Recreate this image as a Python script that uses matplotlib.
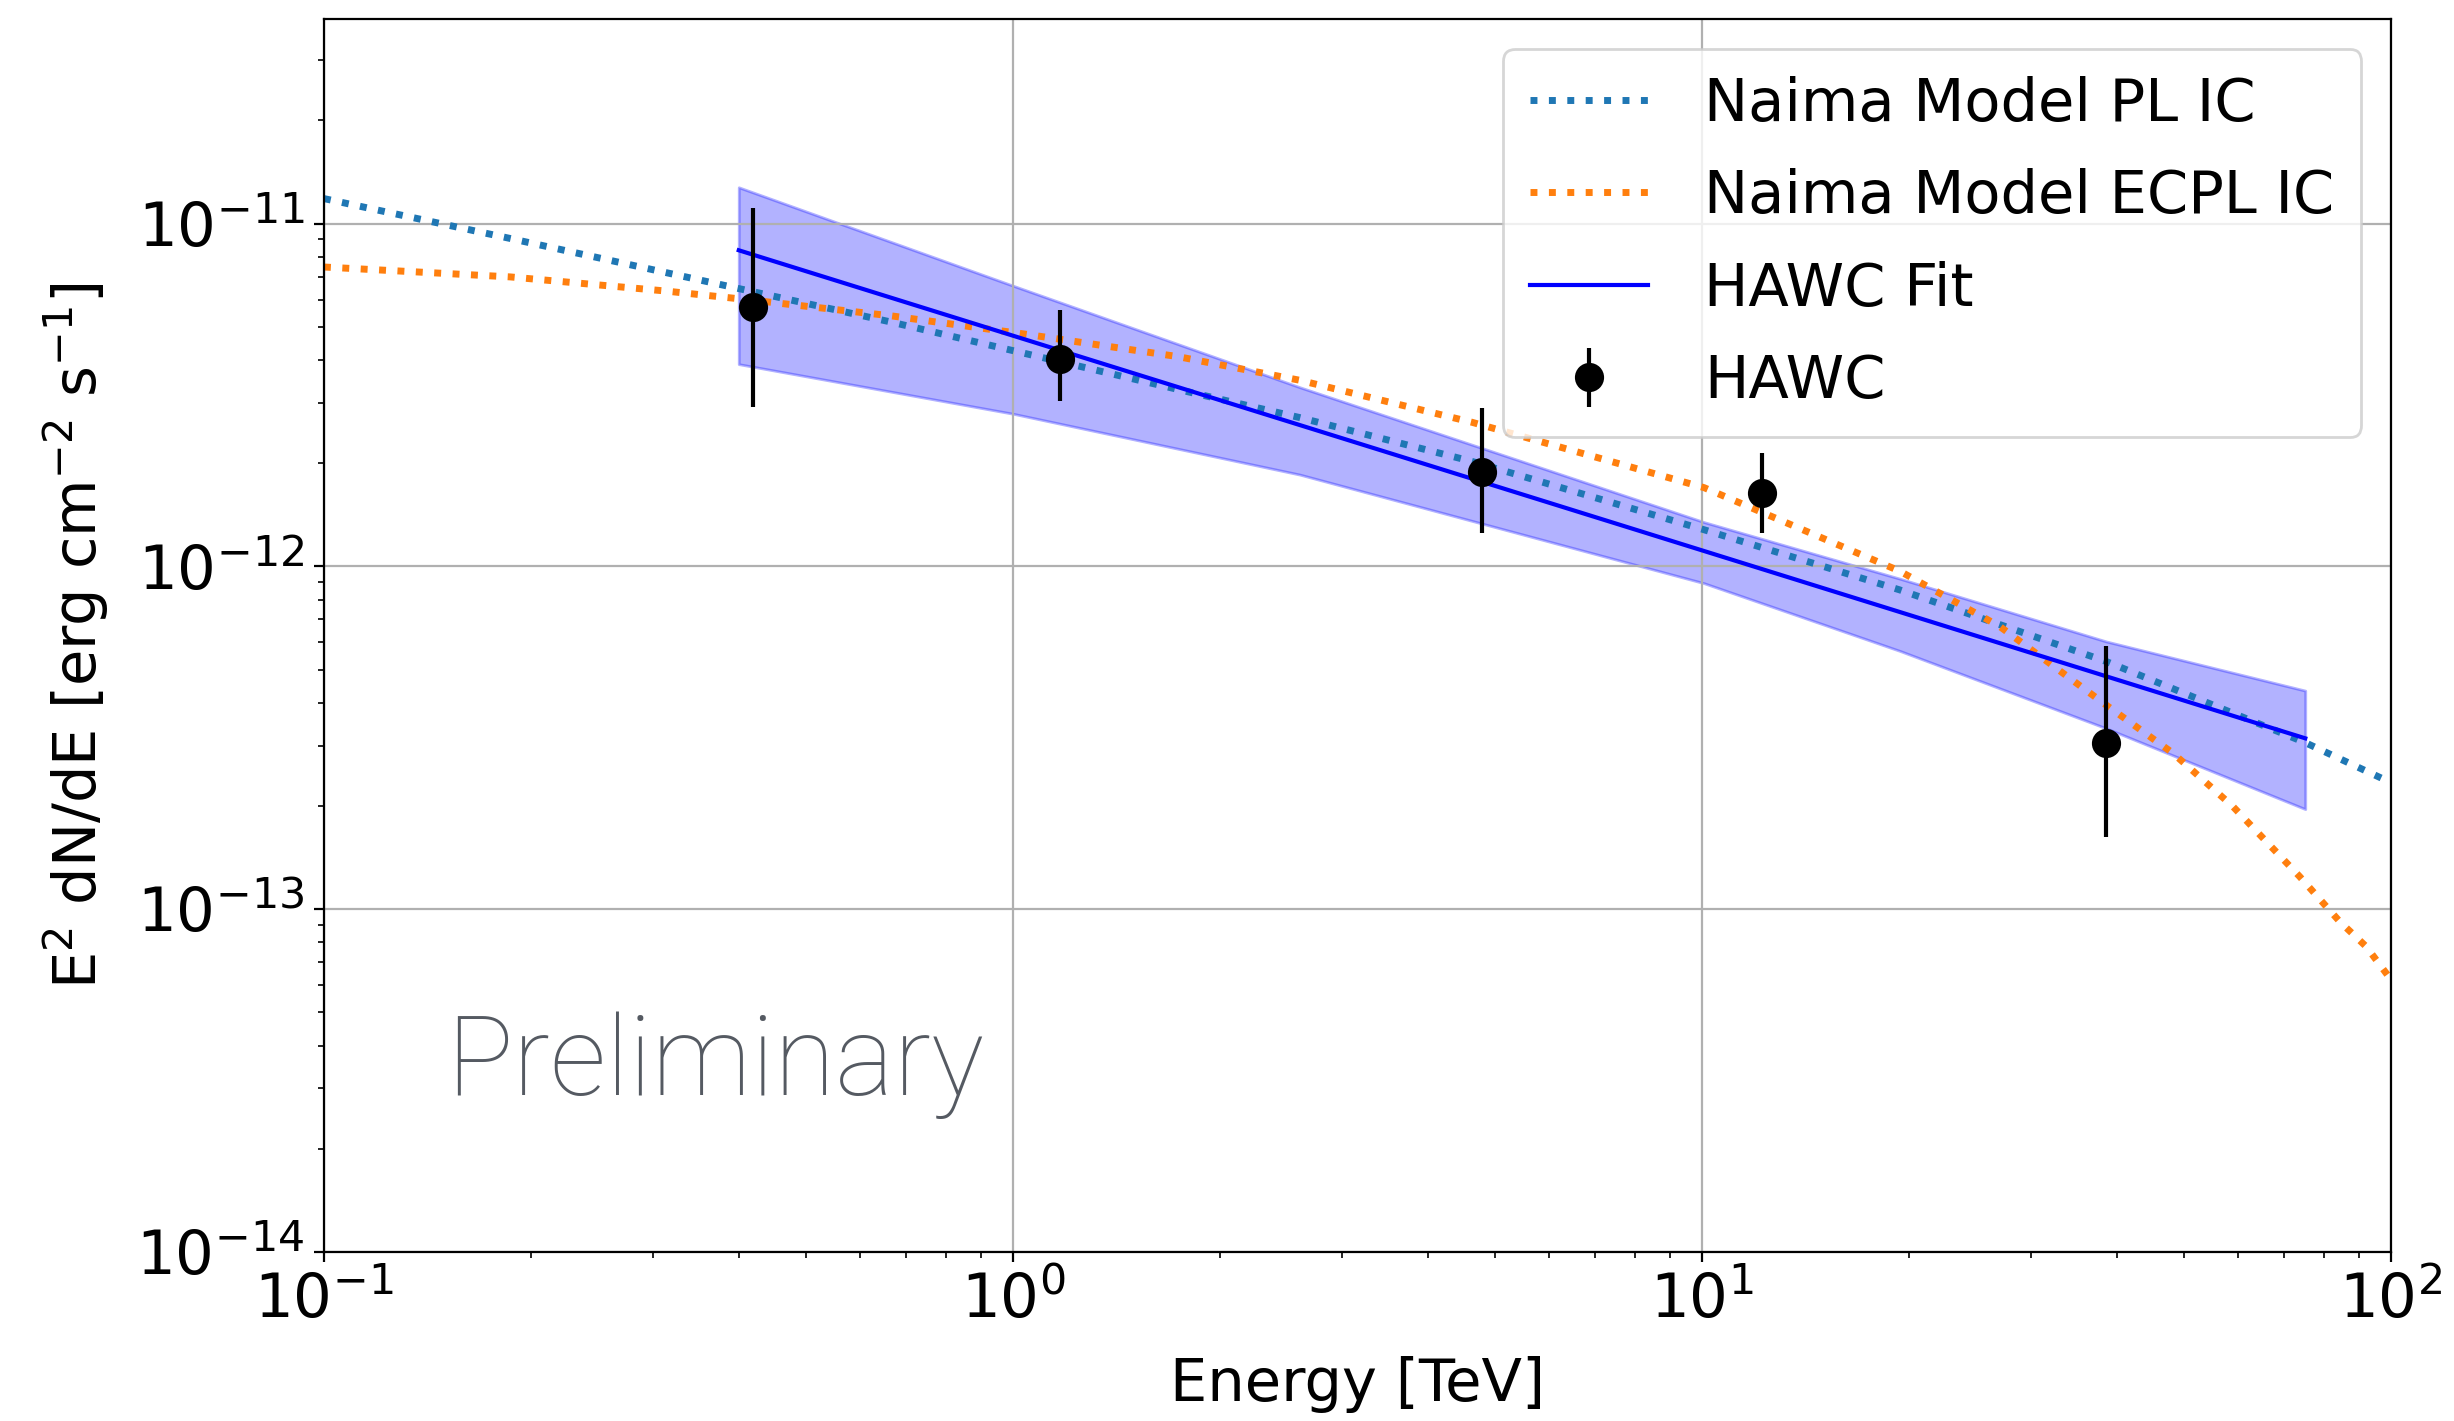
import matplotlib.pyplot as plt

# HAWC flux points (TeV, erg cm^-2 s^-1)
hawc_E = [0.420, 1.171, 4.80, 12.22, 38.6]
hawc_F = [5.72e-12, 4.04e-12, 1.88e-12, 1.634e-12, 3.06e-13]
hawc_F_hi = [1.11e-11, 5.60e-12, 2.90e-12, 2.14e-12, 5.86e-13]
hawc_F_lo = [2.92e-12, 3.03e-12, 1.253e-12, 1.253e-12, 1.628e-13]

# HAWC power-law fit and its butterfly
fit_E = [0.40, 75.1]
fit_F = [8.36e-12, 3.15e-13]
band_E = [0.40, 1.0, 2.609, 10.07, 19.36, 38.6, 75.1]
band_hi = [1.276e-11, 6.59e-12, 3.33e-12, 1.346e-12, 9.21e-13, 6.04e-13, 4.34e-13]
band_lo = [3.89e-12, 2.788e-12, 1.852e-12, 8.93e-13, 5.67e-13, 3.37e-13, 1.958e-13]

# Naima IC models
pl_E = [0.1, 0.1863, 0.3507, 0.666, 1.041, 1.738, 2.609, 4.645, 10.07, 19.36, 38.6, 75.1, 100]
pl_F = [1.183e-11, 9.05e-12, 6.85e-12, 5.16e-12, 4.18e-12, 3.28e-12, 2.716e-12,
        2.022e-12, 1.279e-12, 8.54e-13, 5.28e-13, 3.06e-13, 2.34e-13]

ecpl_E = [0.1, 0.1863, 0.3127, 0.421, 0.666, 1.041, 1.738, 2.609, 4.645, 10.07,
          19.36, 27.05, 38.6, 48.28, 58.97, 73.7, 84.3, 92.1, 100]
ecpl_F = [7.47e-12, 6.99e-12, 6.36e-12, 5.97e-12, 5.38e-12, 4.76e-12, 4.09e-12,
          3.49e-12, 2.63e-12, 1.697e-12, 9.69e-13, 6.68e-13, 3.94e-13, 2.85e-13,
          1.993e-13, 1.245e-13, 9.19e-14, 7.77e-14, 6.23e-14]

x_ticks = [0.1, 1, 10, 100]
y_ticks = [1e-14, 1e-13, 1e-12, 1e-11]

fs = 21.3

fig = plt.figure(figsize=(12.27, 7.105), dpi=200)
ax = fig.add_axes([0.132, 0.119, 0.8423, 0.8673])

ax.fill_between(band_E, band_lo, band_hi, color='blue', alpha=0.3)
ax.plot(pl_E, pl_F, ':', color='tab:blue', lw=2.5, label='Naima Model PL IC')
ax.plot(ecpl_E, ecpl_F, ':', color='tab:orange', lw=2.5, label='Naima Model ECPL IC')
ax.plot(fit_E, fit_F, '-', color='blue', lw=1.5, label='HAWC Fit')

yerr = [[f - lo for f, lo in zip(hawc_F, hawc_F_lo)],
        [hi - f for f, hi in zip(hawc_F, hawc_F_hi)]]
ax.errorbar(hawc_E, hawc_F, yerr=yerr, fmt='o', color='black', ms=9.5, lw=1.5, label='HAWC')

ax.set_xscale('log')
ax.set_yscale('log')
ax.set_xticks(x_ticks)
ax.set_yticks(y_ticks)
ax.set_xlim(0.1, 100)
ax.set_ylim(1e-14, 3.94e-11)
ax.grid(True)
ax.set_xlabel('Energy [TeV]', fontsize=fs, labelpad=9)
ax.set_ylabel(r'E$^2$ dN/dE [erg cm$^{-2}$ s$^{-1}$]', fontsize=fs, labelpad=9)
ax.tick_params(labelsize=22)
ax.legend(loc='upper right', fontsize=fs, labelspacing=0.6, handletextpad=0.95,
          borderpad=0.45)

ax.text(0.059, 0.127, 'Preliminary', transform=ax.transAxes, fontsize=40,
        family='Roboto', weight='light', color='#555a62', va='baseline')

fig.savefig('out.png', dpi=200)
